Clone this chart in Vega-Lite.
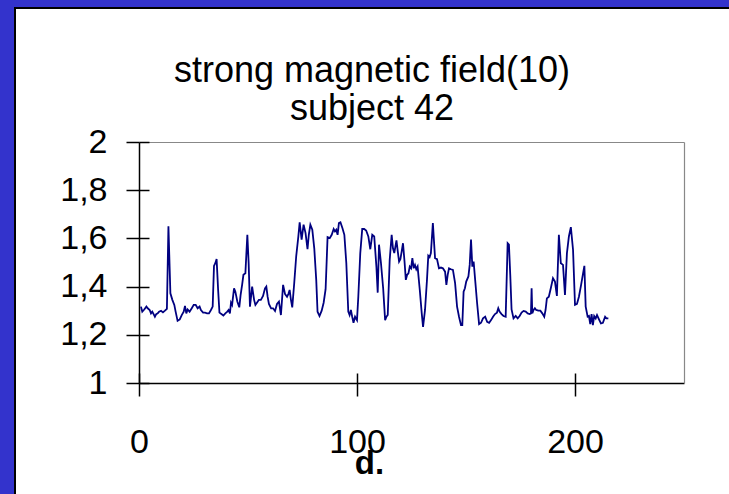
{
  "$schema": "https://vega.github.io/schema/vega-lite/v6.json",
  "autosize": "none",
  "width": 716,
  "height": 488,
  "padding": {"left": 15, "top": 8, "right": -2, "bottom": -2},
  "background": "#3333cc",
  "config": {
    "font": "Liberation Sans",
    "view": {"fill": "white", "stroke": "black", "strokeWidth": 2},
    "axis": {"grid": false, "labelColor": "black", "titleColor": "black", "labelOverlap": false, "labelFlush": false}
  },
  "title": {
    "text": ["strong magnetic field(10)", "subject 42"],
    "fontSize": 36,
    "font": "Liberation Sans",
    "fontWeight": "normal",
    "color": "black",
    "lineHeight": 38,
    "frame": "group",
    "anchor": "middle",
    "dx": -1,
    "offset": -120
  },
  "data": {
    "values": [
      {"d": 0.9, "v": 1.317}, {"d": 1.5, "v": 1.296}, {"d": 2.4, "v": 1.305}, {"d": 3.4, "v": 1.317}, {"d": 4.0, "v": 1.31},
      {"d": 4.9, "v": 1.303}, {"d": 5.5, "v": 1.289}, {"d": 6.1, "v": 1.296}, {"d": 6.7, "v": 1.286}, {"d": 7.3, "v": 1.275},
      {"d": 7.9, "v": 1.286}, {"d": 8.6, "v": 1.289}, {"d": 9.2, "v": 1.296}, {"d": 10.1, "v": 1.30}, {"d": 11.0, "v": 1.293},
      {"d": 11.9, "v": 1.30}, {"d": 12.8, "v": 1.308}, {"d": 13.5, "v": 1.65}, {"d": 14.4, "v": 1.372}, {"d": 15.3, "v": 1.345},
      {"d": 16.2, "v": 1.324}, {"d": 16.8, "v": 1.296}, {"d": 17.7, "v": 1.258}, {"d": 18.7, "v": 1.264}, {"d": 19.6, "v": 1.282},
      {"d": 20.5, "v": 1.296}, {"d": 21.1, "v": 1.32}, {"d": 21.7, "v": 1.289}, {"d": 22.3, "v": 1.305}, {"d": 23.2, "v": 1.296},
      {"d": 24.2, "v": 1.31}, {"d": 25.1, "v": 1.324}, {"d": 26.0, "v": 1.324}, {"d": 26.9, "v": 1.31}, {"d": 27.8, "v": 1.317},
      {"d": 28.4, "v": 1.303}, {"d": 29.4, "v": 1.292}, {"d": 30.3, "v": 1.292}, {"d": 31.2, "v": 1.289}, {"d": 32.1, "v": 1.289},
      {"d": 33.0, "v": 1.303}, {"d": 33.8, "v": 1.317}, {"d": 34.4, "v": 1.486}, {"d": 35.0, "v": 1.497}, {"d": 35.6, "v": 1.514},
      {"d": 36.3, "v": 1.386}, {"d": 36.9, "v": 1.292}, {"d": 37.8, "v": 1.286}, {"d": 38.7, "v": 1.28}, {"d": 39.6, "v": 1.289},
      {"d": 40.5, "v": 1.296}, {"d": 41.1, "v": 1.303}, {"d": 41.7, "v": 1.289}, {"d": 42.2, "v": 1.333}, {"d": 42.7, "v": 1.324},
      {"d": 43.6, "v": 1.393}, {"d": 44.2, "v": 1.379}, {"d": 45.1, "v": 1.338}, {"d": 46.0, "v": 1.314}, {"d": 46.6, "v": 1.365},
      {"d": 47.3, "v": 1.407}, {"d": 47.9, "v": 1.449}, {"d": 48.8, "v": 1.455}, {"d": 49.7, "v": 1.615}, {"d": 50.3, "v": 1.497},
      {"d": 50.9, "v": 1.317}, {"d": 51.9, "v": 1.40}, {"d": 52.8, "v": 1.345}, {"d": 53.4, "v": 1.324}, {"d": 54.1, "v": 1.333},
      {"d": 55.0, "v": 1.345}, {"d": 55.9, "v": 1.345}, {"d": 56.9, "v": 1.361}, {"d": 57.8, "v": 1.393}, {"d": 58.4, "v": 1.40},
      {"d": 59.0, "v": 1.358}, {"d": 59.6, "v": 1.328}, {"d": 60.6, "v": 1.31}, {"d": 61.5, "v": 1.31}, {"d": 62.4, "v": 1.299},
      {"d": 63.3, "v": 1.328}, {"d": 64.2, "v": 1.338}, {"d": 65.1, "v": 1.282}, {"d": 66.1, "v": 1.407}, {"d": 67.0, "v": 1.369},
      {"d": 67.9, "v": 1.358}, {"d": 68.5, "v": 1.369}, {"d": 69.1, "v": 1.386}, {"d": 69.7, "v": 1.345}, {"d": 70.3, "v": 1.314},
      {"d": 71.2, "v": 1.414}, {"d": 72.1, "v": 1.525}, {"d": 73.1, "v": 1.608}, {"d": 73.7, "v": 1.667}, {"d": 74.6, "v": 1.595},
      {"d": 75.5, "v": 1.657}, {"d": 76.4, "v": 1.622}, {"d": 77.3, "v": 1.555}, {"d": 77.9, "v": 1.615}, {"d": 78.6, "v": 1.657},
      {"d": 79.5, "v": 1.636}, {"d": 80.4, "v": 1.559}, {"d": 81.3, "v": 1.428}, {"d": 81.9, "v": 1.296}, {"d": 82.8, "v": 1.278},
      {"d": 83.8, "v": 1.30}, {"d": 84.7, "v": 1.333}, {"d": 85.6, "v": 1.389}, {"d": 86.5, "v": 1.605}, {"d": 87.5, "v": 1.601},
      {"d": 88.4, "v": 1.615}, {"d": 89.3, "v": 1.639}, {"d": 89.9, "v": 1.629}, {"d": 90.5, "v": 1.636}, {"d": 91.1, "v": 1.615},
      {"d": 91.7, "v": 1.664}, {"d": 92.4, "v": 1.667}, {"d": 93.3, "v": 1.643}, {"d": 94.2, "v": 1.615}, {"d": 95.1, "v": 1.497},
      {"d": 96.0, "v": 1.296}, {"d": 96.6, "v": 1.282}, {"d": 97.2, "v": 1.303}, {"d": 97.8, "v": 1.275}, {"d": 98.4, "v": 1.25},
      {"d": 99.1, "v": 1.275}, {"d": 100.0, "v": 1.261}, {"d": 100.6, "v": 1.358}, {"d": 101.5, "v": 1.539}, {"d": 102.4, "v": 1.639},
      {"d": 103.3, "v": 1.639}, {"d": 104.2, "v": 1.633}, {"d": 105.2, "v": 1.608}, {"d": 106.1, "v": 1.555}, {"d": 107.0, "v": 1.615},
      {"d": 107.9, "v": 1.608}, {"d": 108.9, "v": 1.483}, {"d": 109.5, "v": 1.375}, {"d": 110.1, "v": 1.574}, {"d": 111.0, "v": 1.497},
      {"d": 112.0, "v": 1.393}, {"d": 112.9, "v": 1.261}, {"d": 113.5, "v": 1.275}, {"d": 114.1, "v": 1.282}, {"d": 115.0, "v": 1.511},
      {"d": 115.9, "v": 1.615}, {"d": 116.5, "v": 1.559}, {"d": 117.1, "v": 1.539}, {"d": 118.1, "v": 1.592}, {"d": 118.7, "v": 1.546},
      {"d": 119.3, "v": 1.504}, {"d": 119.9, "v": 1.514}, {"d": 120.5, "v": 1.546}, {"d": 121.1, "v": 1.58}, {"d": 121.8, "v": 1.504},
      {"d": 122.4, "v": 1.428}, {"d": 123.0, "v": 1.449}, {"d": 123.6, "v": 1.455}, {"d": 124.2, "v": 1.483}, {"d": 124.8, "v": 1.476},
      {"d": 125.4, "v": 1.518}, {"d": 126.0, "v": 1.476}, {"d": 126.6, "v": 1.49}, {"d": 127.2, "v": 1.472}, {"d": 127.8, "v": 1.483},
      {"d": 128.8, "v": 1.386}, {"d": 129.7, "v": 1.289}, {"d": 130.3, "v": 1.233}, {"d": 131.2, "v": 1.303}, {"d": 132.1, "v": 1.428},
      {"d": 132.7, "v": 1.528}, {"d": 133.3, "v": 1.522}, {"d": 133.9, "v": 1.539}, {"d": 134.8, "v": 1.664}, {"d": 135.8, "v": 1.518},
      {"d": 136.7, "v": 1.514}, {"d": 137.6, "v": 1.476}, {"d": 138.5, "v": 1.479}, {"d": 139.4, "v": 1.476}, {"d": 140.4, "v": 1.462},
      {"d": 141.0, "v": 1.407}, {"d": 141.6, "v": 1.449}, {"d": 142.2, "v": 1.476}, {"d": 143.1, "v": 1.472}, {"d": 144.0, "v": 1.469},
      {"d": 145.0, "v": 1.414}, {"d": 145.9, "v": 1.317}, {"d": 146.8, "v": 1.275}, {"d": 147.7, "v": 1.24}, {"d": 148.3, "v": 1.24},
      {"d": 148.9, "v": 1.379}, {"d": 149.5, "v": 1.393}, {"d": 150.1, "v": 1.421}, {"d": 151.1, "v": 1.442}, {"d": 151.7, "v": 1.49},
      {"d": 152.3, "v": 1.595}, {"d": 152.9, "v": 1.483}, {"d": 153.5, "v": 1.504}, {"d": 154.2, "v": 1.428}, {"d": 155.1, "v": 1.331},
      {"d": 156.0, "v": 1.244}, {"d": 156.9, "v": 1.25}, {"d": 157.8, "v": 1.268}, {"d": 158.8, "v": 1.275}, {"d": 159.7, "v": 1.254},
      {"d": 160.6, "v": 1.25}, {"d": 161.5, "v": 1.261}, {"d": 162.4, "v": 1.275}, {"d": 163.3, "v": 1.286}, {"d": 164.2, "v": 1.292},
      {"d": 164.8, "v": 1.31}, {"d": 165.4, "v": 1.296}, {"d": 166.3, "v": 1.286}, {"d": 167.2, "v": 1.278}, {"d": 168.2, "v": 1.275},
      {"d": 169.1, "v": 1.58}, {"d": 169.7, "v": 1.574}, {"d": 170.3, "v": 1.449}, {"d": 170.9, "v": 1.305}, {"d": 171.8, "v": 1.268},
      {"d": 172.8, "v": 1.278}, {"d": 173.7, "v": 1.268}, {"d": 174.6, "v": 1.278}, {"d": 175.5, "v": 1.292}, {"d": 176.4, "v": 1.299},
      {"d": 177.4, "v": 1.296}, {"d": 178.3, "v": 1.289}, {"d": 179.2, "v": 1.286}, {"d": 179.8, "v": 1.289}, {"d": 180.1, "v": 1.393},
      {"d": 180.4, "v": 1.289}, {"d": 181.0, "v": 1.303}, {"d": 181.6, "v": 1.31}, {"d": 182.2, "v": 1.303}, {"d": 183.2, "v": 1.30},
      {"d": 184.1, "v": 1.30}, {"d": 185.0, "v": 1.289}, {"d": 185.9, "v": 1.275}, {"d": 186.5, "v": 1.303}, {"d": 187.1, "v": 1.351},
      {"d": 188.0, "v": 1.358}, {"d": 189.0, "v": 1.397}, {"d": 189.9, "v": 1.435}, {"d": 190.8, "v": 1.421}, {"d": 191.7, "v": 1.361},
      {"d": 192.6, "v": 1.615}, {"d": 193.5, "v": 1.497}, {"d": 194.5, "v": 1.49}, {"d": 195.4, "v": 1.365}, {"d": 196.3, "v": 1.539},
      {"d": 197.2, "v": 1.608}, {"d": 198.1, "v": 1.647}, {"d": 199.1, "v": 1.553}, {"d": 200.0, "v": 1.324}, {"d": 200.9, "v": 1.328},
      {"d": 201.8, "v": 1.358}, {"d": 202.8, "v": 1.407}, {"d": 203.7, "v": 1.455}, {"d": 204.3, "v": 1.486}, {"d": 204.9, "v": 1.317},
      {"d": 205.8, "v": 1.275}, {"d": 206.4, "v": 1.278}, {"d": 207.0, "v": 1.244}, {"d": 207.6, "v": 1.286}, {"d": 208.2, "v": 1.24},
      {"d": 208.8, "v": 1.278}, {"d": 209.5, "v": 1.268}, {"d": 210.1, "v": 1.282}, {"d": 211.0, "v": 1.264}, {"d": 211.9, "v": 1.247},
      {"d": 212.8, "v": 1.25}, {"d": 213.8, "v": 1.275}, {"d": 214.4, "v": 1.268}, {"d": 215.3, "v": 1.268}
    ]
  },
  "layer": [
    {
      "mark": {"type": "line", "opacity": 0},
      "encoding": {
        "x": {"field": "d", "type": "quantitative",
          "scale": {"domain": [0, 250], "range": [124, 669], "nice": false, "zero": false},
          "axis": {"orient": "top", "offset": -134, "domain": true, "domainColor": "#888888", "domainWidth": 1.2, "ticks": false, "labels": false, "title": null}},
        "y": {"field": "v", "type": "quantitative",
          "scale": {"domain": [1, 2], "range": [375, 134], "nice": false, "zero": false},
          "axis": {"orient": "right", "offset": -47, "domain": true, "domainColor": "#888888", "domainWidth": 1.2, "ticks": false, "labels": false, "title": null}}
      }
    },
    {
      "mark": {"type": "line", "opacity": 0},
      "encoding": {
        "x": {"field": "d", "type": "quantitative",
          "axis": {"orient": "top", "offset": -375, "domain": false, "values": [0, 100, 200], "ticks": true, "tickSize": 10, "tickWidth": 1.5, "tickColor": "black", "labels": false, "title": null}},
        "y": {"field": "v", "type": "quantitative",
          "axis": {"orient": "right", "offset": -592, "domain": false, "values": [1, 1.2, 1.4, 1.6, 1.8, 2], "ticks": true, "tickSize": 10, "tickWidth": 1.5, "tickColor": "black", "labels": false, "title": null}}
      }
    },
    {
      "mark": {"type": "line", "color": "#000080", "strokeWidth": 1.8},
      "encoding": {
        "x": {"field": "d", "type": "quantitative",
          "axis": {"orient": "bottom", "offset": -113, "values": [0, 100, 200], "domainColor": "black", "domainWidth": 1.5,
            "tickColor": "black", "tickWidth": 1.5, "tickSize": 13,
            "labelFontSize": 34, "labelBaseline": "alphabetic", "labelPadding": 56,
            "title": "d.", "titleFontSize": 33, "titleFontWeight": "bold", "titleBaseline": "alphabetic", "titleX": 354, "titleY": 90, "titleAlign": "center"}},
        "y": {"field": "v", "type": "quantitative",
          "axis": {"orient": "left", "offset": -124, "values": [1, 1.2, 1.4, 1.6, 1.8, 2], "format": "~g", "labelExpr": "replace(datum.label, '.', ',')",
            "domainColor": "black", "domainWidth": 1.5, "tickColor": "black", "tickWidth": 1.5, "tickSize": 13,
            "labelFontSize": 34, "labelPadding": 19, "title": null}}
      }
    }
  ],
  "resolve": {"axis": {"x": "independent", "y": "independent"}}
}
